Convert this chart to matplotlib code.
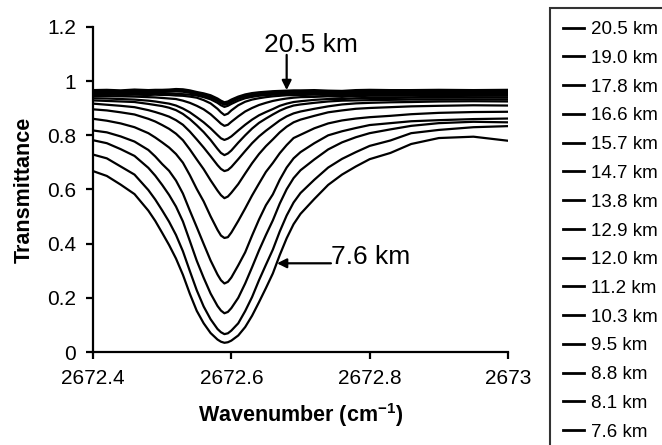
import numpy as np
import matplotlib.pyplot as plt

plt.rcParams['font.family'] = ['Liberation Sans', 'DejaVu Sans']
plt.rcParams['mathtext.default'] = 'regular'

# wavenumber grid (cm-1) and transmittance for each tangent altitude
wavenumber = [2672.40, 2672.42, 2672.44, 2672.46, 2672.48, 2672.49, 2672.50, 2672.51, 2672.52, 2672.53,
              2672.54, 2672.55, 2672.56, 2672.57, 2672.58, 2672.585, 2672.59, 2672.595, 2672.60, 2672.61,
              2672.62, 2672.63, 2672.64, 2672.65, 2672.66, 2672.67, 2672.68, 2672.69, 2672.70, 2672.72,
              2672.74, 2672.76, 2672.78, 2672.80, 2672.83, 2672.86, 2672.90, 2672.95, 2673.00]

t_20_5 = [0.967, 0.968, 0.966, 0.969, 0.967, 0.968, 0.968, 0.969, 0.971, 0.970,
          0.966, 0.960, 0.955, 0.948, 0.936, 0.928, 0.922, 0.925, 0.932, 0.943,
          0.951, 0.956, 0.959, 0.961, 0.963, 0.964, 0.965, 0.966, 0.966, 0.967,
          0.965, 0.964, 0.967, 0.968, 0.967, 0.967, 0.968, 0.967, 0.968]
t_19_0 = [0.963, 0.964, 0.962, 0.965, 0.963, 0.964, 0.964, 0.965, 0.967, 0.966,
          0.962, 0.956, 0.951, 0.944, 0.932, 0.924, 0.918, 0.921, 0.928, 0.939,
          0.947, 0.952, 0.955, 0.957, 0.959, 0.960, 0.961, 0.962, 0.962, 0.963,
          0.961, 0.960, 0.963, 0.964, 0.963, 0.963, 0.964, 0.963, 0.964]
t_17_8 = [0.959, 0.960, 0.958, 0.961, 0.959, 0.960, 0.960, 0.961, 0.962, 0.961,
          0.957, 0.952, 0.946, 0.939, 0.927, 0.919, 0.913, 0.916, 0.923, 0.935,
          0.943, 0.947, 0.951, 0.953, 0.955, 0.956, 0.957, 0.958, 0.958, 0.959,
          0.957, 0.956, 0.959, 0.960, 0.959, 0.959, 0.960, 0.959, 0.960]
t_16_6 = [0.955, 0.955, 0.954, 0.956, 0.954, 0.955, 0.955, 0.954, 0.953, 0.952,
          0.950, 0.947, 0.941, 0.933, 0.920, 0.911, 0.905, 0.909, 0.916, 0.928,
          0.937, 0.942, 0.946, 0.948, 0.950, 0.952, 0.953, 0.953, 0.954, 0.955,
          0.953, 0.952, 0.955, 0.956, 0.955, 0.955, 0.956, 0.955, 0.956]
t_15_7 = [0.950, 0.951, 0.949, 0.950, 0.949, 0.950, 0.949, 0.949, 0.947, 0.946,
          0.943, 0.939, 0.930, 0.918, 0.898, 0.885, 0.875, 0.880, 0.892, 0.911,
          0.924, 0.932, 0.937, 0.941, 0.944, 0.946, 0.948, 0.948, 0.949, 0.950,
          0.949, 0.947, 0.950, 0.951, 0.950, 0.950, 0.951, 0.950, 0.951]
t_14_7 = [0.945, 0.945, 0.944, 0.943, 0.941, 0.940, 0.938, 0.936, 0.934, 0.928,
          0.920, 0.909, 0.896, 0.878, 0.855, 0.843, 0.835, 0.839, 0.850, 0.870,
          0.888, 0.901, 0.912, 0.920, 0.927, 0.932, 0.936, 0.939, 0.941, 0.942,
          0.944, 0.942, 0.945, 0.946, 0.946, 0.946, 0.945, 0.946, 0.946]
t_13_8 = [0.937, 0.936, 0.934, 0.932, 0.928, 0.925, 0.921, 0.917, 0.910, 0.899,
          0.885, 0.867, 0.848, 0.826, 0.801, 0.789, 0.783, 0.788, 0.796, 0.818,
          0.839, 0.858, 0.874, 0.886, 0.897, 0.909, 0.917, 0.923, 0.926, 0.931,
          0.934, 0.934, 0.937, 0.938, 0.938, 0.939, 0.939, 0.940, 0.939]
t_12_9 = [0.929, 0.927, 0.925, 0.923, 0.916, 0.912, 0.908, 0.902, 0.893, 0.879,
          0.860, 0.837, 0.812, 0.783, 0.750, 0.735, 0.727, 0.733, 0.744, 0.773,
          0.800, 0.825, 0.846, 0.862, 0.877, 0.891, 0.902, 0.910, 0.914, 0.920,
          0.925, 0.928, 0.929, 0.930, 0.931, 0.932, 0.932, 0.933, 0.932]
t_12_0 = [0.917, 0.913, 0.909, 0.904, 0.893, 0.886, 0.878, 0.869, 0.856, 0.839,
          0.814, 0.785, 0.755, 0.723, 0.690, 0.676, 0.668, 0.672, 0.683, 0.712,
          0.742, 0.771, 0.796, 0.817, 0.836, 0.855, 0.870, 0.881, 0.888, 0.898,
          0.907, 0.914, 0.918, 0.920, 0.922, 0.923, 0.925, 0.926, 0.925]
t_11_2 = [0.896, 0.892, 0.885, 0.877, 0.861, 0.851, 0.838, 0.824, 0.806, 0.782,
          0.748, 0.711, 0.675, 0.634, 0.596, 0.579, 0.568, 0.574, 0.588, 0.620,
          0.659, 0.697, 0.731, 0.760, 0.785, 0.811, 0.832, 0.848, 0.858, 0.872,
          0.885, 0.892, 0.898, 0.901, 0.904, 0.907, 0.909, 0.911, 0.910]
t_10_3 = [0.861, 0.854, 0.844, 0.830, 0.808, 0.792, 0.774, 0.755, 0.731, 0.699,
          0.653, 0.602, 0.556, 0.501, 0.451, 0.430, 0.421, 0.424, 0.441, 0.484,
          0.530, 0.578, 0.622, 0.665, 0.698, 0.734, 0.764, 0.790, 0.802, 0.826,
          0.844, 0.855, 0.862, 0.867, 0.872, 0.878, 0.883, 0.886, 0.887]
t_9_5 = [0.818, 0.811, 0.796, 0.777, 0.746, 0.722, 0.694, 0.669, 0.633, 0.585,
         0.522, 0.461, 0.399, 0.338, 0.286, 0.265, 0.253, 0.259, 0.275, 0.320,
         0.368, 0.430, 0.489, 0.542, 0.582, 0.636, 0.681, 0.715, 0.738, 0.771,
         0.800, 0.815, 0.827, 0.838, 0.845, 0.852, 0.856, 0.860, 0.862]
t_8_8 = [0.782, 0.771, 0.749, 0.724, 0.680, 0.651, 0.617, 0.580, 0.537, 0.482,
         0.410, 0.337, 0.274, 0.216, 0.170, 0.153, 0.143, 0.148, 0.162, 0.200,
         0.253, 0.313, 0.375, 0.432, 0.486, 0.548, 0.601, 0.642, 0.671, 0.711,
         0.748, 0.774, 0.793, 0.808, 0.822, 0.835, 0.845, 0.850, 0.848]
t_8_1 = [0.729, 0.715, 0.685, 0.655, 0.598, 0.563, 0.523, 0.481, 0.432, 0.372,
         0.299, 0.228, 0.168, 0.121, 0.085, 0.073, 0.066, 0.069, 0.079, 0.106,
         0.151, 0.203, 0.265, 0.322, 0.378, 0.445, 0.504, 0.552, 0.587, 0.636,
         0.681, 0.713, 0.738, 0.761, 0.781, 0.808, 0.820, 0.830, 0.834]
t_7_6 = [0.668, 0.650, 0.618, 0.583, 0.522, 0.484, 0.440, 0.395, 0.345, 0.285,
         0.215, 0.152, 0.106, 0.070, 0.046, 0.038, 0.034, 0.036, 0.042, 0.061,
         0.092, 0.134, 0.184, 0.236, 0.290, 0.358, 0.420, 0.472, 0.510, 0.565,
         0.617, 0.655, 0.685, 0.712, 0.735, 0.768, 0.790, 0.795, 0.780]

altitudes = ['20.5 km', '19.0 km', '17.8 km', '16.6 km', '15.7 km', '14.7 km', '13.8 km', '12.9 km',
             '12.0 km', '11.2 km', '10.3 km', '9.5 km', '8.8 km', '8.1 km', '7.6 km']
spectra = [t_20_5, t_19_0, t_17_8, t_16_6, t_15_7, t_14_7, t_13_8, t_12_9,
           t_12_0, t_11_2, t_10_3, t_9_5, t_8_8, t_8_1, t_7_6]

xticks = [2672.4, 2672.6, 2672.8, 2673.0]
xtick_labels = ['2672.4', '2672.6', '2672.8', '2673']
yticks = [0, 0.2, 0.4, 0.6, 0.8, 1.0, 1.2]
ytick_labels = ['0', '0.2', '0.4', '0.6', '0.8', '1', '1.2']

fig = plt.figure(figsize=(6.62, 4.45), dpi=100)
ax = fig.add_axes([93 / 662, 93 / 445, 415 / 662, 325 / 445])

for name, t in zip(altitudes, spectra):
    ax.plot(wavenumber, t, color='black', lw=1.6, label=name)

ax.set_xlim(2672.4, 2673.0)
ax.set_ylim(0, 1.2)
ax.set_xticks(xticks)
ax.set_xticklabels(xtick_labels)
ax.set_yticks(yticks)
ax.set_yticklabels(ytick_labels)
ax.spines['top'].set_visible(False)
ax.spines['right'].set_visible(False)
for s in ['left', 'bottom']:
    ax.spines[s].set_linewidth(1.6)
ax.tick_params(direction='out', length=5, width=1.6, labelsize=15, pad=7)

ax.set_xlabel('Wavenumber (cm$^{-1}$)', fontsize=15.5, fontweight='bold', labelpad=10)
ax.set_ylabel('Transmittance', fontsize=15.5, fontweight='bold', labelpad=9)

# altitude callouts
ax.text(2672.647, 1.134, '20.5 km', fontsize=19, va='center', ha='left')
ax.annotate('', xy=(2672.68, 0.967), xytext=(2672.68, 1.097),
            arrowprops=dict(arrowstyle='-|>', color='black', lw=1.6, mutation_scale=14,
                            shrinkA=0, shrinkB=0))
ax.text(2672.744, 0.352, '7.6 km', fontsize=19, va='center', ha='left')
ax.annotate('', xy=(2672.666, 0.3275), xytext=(2672.744, 0.3275),
            arrowprops=dict(arrowstyle='-|>', color='black', lw=1.6, mutation_scale=14,
                            shrinkA=0, shrinkB=0))

leg = fig.legend(loc='upper left', bbox_to_anchor=(550 / 662, 1 - 8 / 445), frameon=True,
                 fancybox=False, edgecolor='black', fontsize=13.5, handlelength=1.1,
                 handletextpad=0.4, labelspacing=0.62, borderaxespad=0, borderpad=0.7)
leg.get_frame().set_linewidth(1.5)
for line in leg.get_lines():
    line.set_linewidth(2)

fig.savefig('out.png', dpi=100)
